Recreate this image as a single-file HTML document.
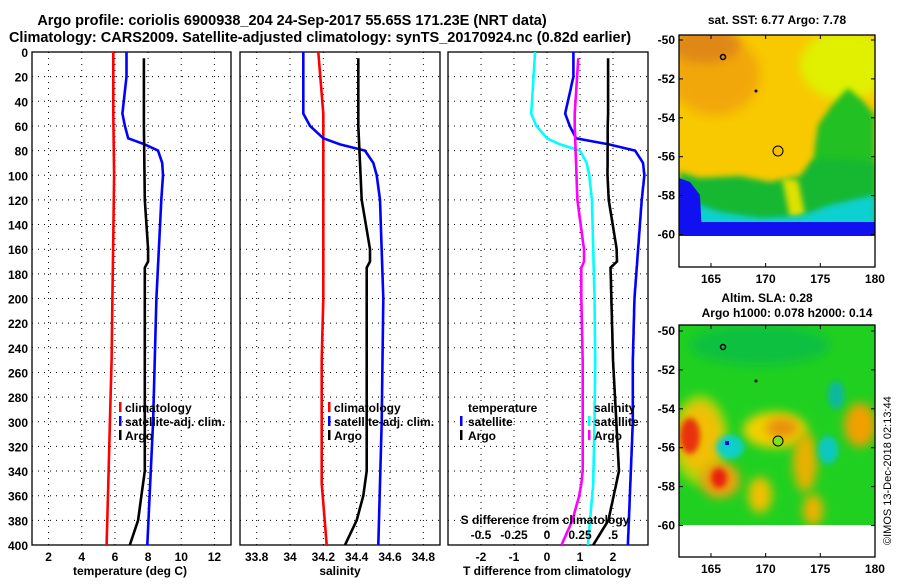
<!DOCTYPE html>
<html><head><meta charset="utf-8"><style>
body{margin:0;background:#fff;}
svg text{font-family:"Liberation Sans",sans-serif;font-weight:bold;fill:#000;}
</style></head><body>
<svg id="fig" width="900" height="580" viewBox="0 0 900 580" xmlns="http://www.w3.org/2000/svg">
<defs>
<clipPath id="c1"><rect x="32" y="52" width="199" height="493"/></clipPath>
<clipPath id="c2"><rect x="240" y="52" width="200" height="493"/></clipPath>
<clipPath id="c3"><rect x="448" y="52" width="200" height="493"/></clipPath>
<clipPath id="m1"><rect x="679" y="35" width="196" height="201"/></clipPath>
<clipPath id="m2"><rect x="679" y="325" width="196" height="200"/></clipPath>
<filter id="bl" x="-50%" y="-50%" width="200%" height="200%"><feGaussianBlur stdDeviation="5"/></filter>
<filter id="bl2" x="-50%" y="-50%" width="200%" height="200%"><feGaussianBlur stdDeviation="3"/></filter>
</defs>
<text x="292" y="25" font-size="14.5" text-anchor="middle">Argo profile: coriolis 6900938_204 24-Sep-2017 55.65S 171.23E (NRT data)</text>
<text x="320" y="42" font-size="14.5" text-anchor="middle">Climatology: CARS2009. Satellite-adjusted climatology: synTS_20170924.nc (0.82d earlier)</text>
<g id="plots"></g>
<!-- Map 1 -->
<g clip-path="url(#m1)">
<rect x="679" y="35" width="196" height="201" fill="#f8c800"/>
<ellipse cx="715" cy="75" rx="45" ry="40" fill="#f0a010" filter="url(#bl)" opacity="0.8"/>
<ellipse cx="705" cy="45" rx="35" ry="18" fill="#e08818" filter="url(#bl)"/>
<ellipse cx="845" cy="65" rx="45" ry="35" fill="#e0f000" filter="url(#bl)"/>
<polygon points="815,145 818,125 832,105 848,88 862,100 875,115 875,236 812,236 805,200 812,175" fill="#22c022" filter="url(#bl2)"/>
<polygon points="679,172 700,178 740,176 770,182 800,176 812,160 830,158 875,162 875,236 679,236" fill="#18b830" filter="url(#bl2)"/>
<polygon points="782,178 798,180 805,215 790,218" fill="#e0e000" filter="url(#bl2)"/>
<polygon points="679,198 720,212 760,218 800,216 830,205 875,195 875,236 679,236" fill="#10d0d0" filter="url(#bl2)"/>
<polygon points="679,222 875,222 875,236 679,236" fill="#1010f0"/>
<polygon points="679,178 690,182 700,195 702,236 679,236" fill="#1010f0"/>
<circle cx="723" cy="57" r="2.5" fill="none" stroke="#000" stroke-width="1.5"/>
<circle cx="756" cy="91" r="1.5" fill="#000"/>
<circle cx="778" cy="151" r="5" fill="#f5c000" stroke="#000" stroke-width="1"/>
</g>
<rect x="679" y="35" width="196" height="232" fill="none" stroke="#000" stroke-width="1.3"/>
<text x="777" y="24" font-size="12" text-anchor="middle">sat. SST: 6.77 Argo: 7.78</text>
<!-- Map 2 -->
<g clip-path="url(#m2)">
<rect x="679" y="325" width="196" height="200" fill="#20d020"/>
<ellipse cx="760" cy="345" rx="70" ry="20" fill="#10c040" filter="url(#bl)"/>
<ellipse cx="700" cy="438" rx="22" ry="35" fill="#f09010" filter="url(#bl)"/>
<ellipse cx="700" cy="440" rx="28" ry="45" fill="#f0e000" filter="url(#bl)" opacity="0.6"/>
<ellipse cx="690" cy="436" rx="10" ry="18" fill="#e83010" filter="url(#bl2)"/>
<ellipse cx="720" cy="480" rx="20" ry="18" fill="#f0a010" filter="url(#bl)"/>
<ellipse cx="719" cy="478" rx="8" ry="10" fill="#e82010" filter="url(#bl2)"/>
<ellipse cx="775" cy="430" rx="32" ry="18" fill="#f0d000" filter="url(#bl)"/>
<ellipse cx="782" cy="428" rx="16" ry="10" fill="#e89010" filter="url(#bl)"/>
<ellipse cx="805" cy="462" rx="12" ry="30" fill="#e8b000" filter="url(#bl)"/>
<ellipse cx="760" cy="495" rx="12" ry="18" fill="#f0c000" filter="url(#bl)"/>
<ellipse cx="813" cy="510" rx="10" ry="16" fill="#f0b000" filter="url(#bl)"/>
<ellipse cx="860" cy="425" rx="16" ry="22" fill="#f0a000" filter="url(#bl)"/>
<ellipse cx="730" cy="447" rx="14" ry="12" fill="#10d0c8" filter="url(#bl2)"/>
<ellipse cx="828" cy="450" rx="10" ry="14" fill="#10c8c0" filter="url(#bl2)"/>
<ellipse cx="836" cy="395" rx="8" ry="14" fill="#10b8a0" filter="url(#bl2)"/>
<rect x="725" y="441" width="4" height="4" fill="#10f"/>
<circle cx="723" cy="347" r="2.5" fill="none" stroke="#000" stroke-width="1.5"/>
<circle cx="756" cy="381" r="1.5" fill="#000"/>
<circle cx="778" cy="441" r="5" fill="#80e020" stroke="#000" stroke-width="1"/>
</g>
<rect x="679" y="325" width="196" height="232" fill="none" stroke="#000" stroke-width="1.3"/>
<text x="767" y="302" font-size="12" text-anchor="middle">Altim. SLA: 0.28</text>
<text x="787" y="317" font-size="12" text-anchor="middle">Argo h1000: 0.078 h2000: 0.14</text>
<text x="891" y="545" font-size="11" transform="rotate(-90 891 545)" style="font-weight:normal">©IMOS 13-Dec-2018 02:13:44</text>
<g id="mapaxes"></g>
</svg>
<script>
// ---- data ----
const depthsClim = [0, 50, 100, 150, 200, 250, 300, 350, 400];
const tempClim = [5.9, 5.9, 5.95, 5.9, 5.85, 5.8, 5.7, 5.6, 5.5];
const depthsSat = [0, 20, 50, 60, 70, 75, 80, 90, 100, 120, 200, 300, 400];
const tempSat = [6.7, 6.7, 6.45, 6.6, 6.8, 7.8, 8.6, 8.85, 8.9, 8.8, 8.5, 8.3, 7.95];
const depthsArgo = [5, 60, 120, 160, 170, 175, 250, 300, 340, 360, 380, 400];
const tempArgo = [7.75, 7.75, 7.8, 8.0, 8.0, 7.8, 7.8, 7.8, 7.8, 7.6, 7.4, 6.9];
const salClim = [34.17, 34.2, 34.2, 34.2, 34.2, 34.19, 34.19, 34.19, 34.22];
const salSat = [34.08, 34.08, 34.08, 34.12, 34.2, 34.3, 34.45, 34.5, 34.52, 34.54, 34.56, 34.55, 34.53];
const salArgo = [34.41, 34.41, 34.43, 34.48, 34.48, 34.46, 34.46, 34.46, 34.46, 34.44, 34.4, 34.33];
const tTicks1 = [2, 4, 6, 8, 10, 12];
const sTicks = [33.8, 34, 34.2, 34.4, 34.6, 34.8];
const dTicksT = [-2, -1, 0, 1, 2];
const dTicksS = ["-0.5", "-0.25", "0", "0.25", ".5"];
const depthTicks = [0,20,40,60,80,100,120,140,160,180,200,220,240,260,280,300,320,340,360,380,400];
const lonTicks = [165, 170, 175, 180];
const latTicks = [-50, -52, -54, -56, -58, -60];

const NS = "http://www.w3.org/2000/svg";
const yD = d => 52 + d * (493 / 400);
function mk(tag, attrs, parent) { const e = document.createElementNS(NS, tag); for (const k in attrs) e.setAttribute(k, attrs[k]); parent.appendChild(e); return e; }
function interp(ds, vs, d) {
  if (d <= ds[0]) return vs[0];
  for (let i = 1; i < ds.length; i++) if (d <= ds[i]) { const f = (d - ds[i-1]) / (ds[i] - ds[i-1]); return vs[i-1] + f * (vs[i] - vs[i-1]); }
  return vs[vs.length - 1];
}
const plots = document.getElementById('plots');
const panels = [
  {x0: 32, x1: 231, v0: 1, v1: 13, clip: 'c1', name: 'temperature-panel'},
  {x0: 240, x1: 440, v0: 33.7, v1: 34.9, clip: 'c2', name: 'salinity-panel'},
  {x0: 448, x1: 648, v0: -3, v1: 3.06, clip: 'c3', name: 'difference-panel'}
];
function sx(p, v) { return p.x0 + (v - p.v0) / (p.v1 - p.v0) * (p.x1 - p.x0); }
function line(p, ds, fn, color, name, w) {
  const pts = ds.map(d => sx(p, fn(d)).toFixed(1) + ',' + yD(d).toFixed(1)).join(' ');
  const el = mk('polyline', {points: pts, fill: 'none', stroke: color, 'stroke-width': w || 2.6, 'clip-path': 'url(#' + p.clip + ')'}, plots);
  
  
}
panels.forEach((p, i) => {
  const g = mk('g', {}, plots);
  
  
  const ticks = i === 0 ? tTicks1 : i === 1 ? sTicks : dTicksT;
  ticks.forEach(t => {
    const x = sx(p, t);
    mk('line', {x1: x, x2: x, y1: 52, y2: 545, stroke: '#000', 'stroke-width': 1, 'stroke-dasharray': '1,5'}, g);
    const tl = mk('text', {x: x, y: 561, 'font-size': 12, 'text-anchor': 'middle'}, g);
    tl.textContent = t;
  });
  depthTicks.forEach(d => {
    mk('line', {x1: p.x0, x2: p.x1, y1: yD(d), y2: yD(d), stroke: '#000', 'stroke-width': 1, 'stroke-dasharray': '1,5'}, g);
    if (i === 0) { const tl = mk('text', {x: 28, y: yD(d) + 5, 'font-size': 12, 'text-anchor': 'end'}, g); tl.textContent = d; }
  });
  mk('rect', {x: p.x0, y: 52, width: p.x1 - p.x0, height: 493, fill: 'none', stroke: '#000', 'stroke-width': 1.3}, g);
});
const fine = []; for (let d = 0; d <= 400; d += 2.5) fine.push(d);
const fineA = fine.filter(d => d >= 5);
const p1 = panels[0], p2 = panels[1], p3 = panels[2];
line(p1, depthsClim, d => interp(depthsClim, tempClim, d), '#f00', 'temp-climatology-line');
line(p1, depthsSat, d => interp(depthsSat, tempSat, d), '#00f', 'temp-satellite-line');
line(p1, depthsArgo, d => interp(depthsArgo, tempArgo, d), '#000', 'temp-argo-line');
line(p2, depthsClim, d => interp(depthsClim, salClim, d), '#f00', 'sal-climatology-line');
line(p2, depthsSat, d => interp(depthsSat, salSat, d), '#00f', 'sal-satellite-line');
line(p2, depthsArgo, d => interp(depthsArgo, salArgo, d), '#000', 'sal-argo-line');
line(p3, fine, d => interp(depthsSat, tempSat, d) - interp(depthsClim, tempClim, d), '#00f', 'tdiff-satellite-line');
line(p3, fineA, d => interp(depthsArgo, tempArgo, d) - interp(depthsClim, tempClim, d), '#000', 'tdiff-argo-line');
line(p3, fine, d => 4 * (interp(depthsSat, salSat, d) - interp(depthsClim, salClim, d)), '#0ff', 'sdiff-satellite-line');
line(p3, fineA, d => 4 * (interp(depthsArgo, salArgo, d) - interp(depthsClim, salClim, d)), '#f0f', 'sdiff-argo-line');
dTicksS.forEach((t, i) => { const tl = mk('text', {x: sx(p3, dTicksT[i]), y: 539, 'font-size': 12, 'text-anchor': 'middle'}, plots); tl.textContent = t; });
function txt(x, y, s, name, anchor) { const t = mk('text', {x: x, y: y, 'font-size': 12, 'text-anchor': anchor || 'start'}, plots); t.textContent = s;   }
function mark(x, y, c) { mk('rect', {x: x, y: y - 10, width: 2.5, height: 10, fill: c}, plots); }
[[119, 'temp'], [328, 'sal']].forEach(([x, n]) => {
  mark(x, 412, '#f00'); txt(x + 6, 412, 'climatology', n + '-legend-climatology');
  mark(x, 426, '#00f'); txt(x + 6, 426, 'satellite-adj. clim.', n + '-legend-satellite');
  mark(x, 440, '#000'); txt(x + 6, 440, 'Argo', n + '-legend-argo');
});
txt(468, 412, 'temperature', 'diff-legend-temperature');
mark(460, 426, '#00f'); txt(468, 426, 'satellite', 'diff-legend-t-satellite');
mark(460, 440, '#000'); txt(468, 440, 'Argo', 'diff-legend-t-argo');
txt(594, 412, 'salinity', 'diff-legend-salinity');
mark(588, 426, '#0ff'); txt(594, 426, 'satellite', 'diff-legend-s-satellite');
mark(588, 440, '#f0f'); txt(594, 440, 'Argo', 'diff-legend-s-argo');
txt(545, 524, 'S difference from climatology', 'sdiff-axis-title', 'middle');
txt(130, 575, 'temperature (deg C)', 'x-axis-title-temperature', 'middle');
txt(340, 575, 'salinity', 'x-axis-title-salinity', 'middle');
txt(547, 575, 'T difference from climatology', 'x-axis-title-tdiff', 'middle');
const ma = document.getElementById('mapaxes');
const lonX = l => 711 + (l - 165) * 10.93;
[[40, 279], [331, 569]].forEach(([ytop, ylab], k) => {
  const yb = k === 0 ? 267 : 557;
  lonTicks.forEach(l => {
    mk('line', {x1: lonX(l), x2: lonX(l), y1: yb, y2: yb - 4, stroke: '#000'}, ma);
    mk('line', {x1: lonX(l), x2: lonX(l), y1: yb - 232, y2: yb - 228, stroke: '#000'}, ma);
    const t = mk('text', {x: lonX(l), y: ylab + 4, 'font-size': 12, 'text-anchor': 'middle'}, ma); t.textContent = l;
  });
  latTicks.forEach(la => {
    const y = ytop + (-50 - la) * 19.45;
    mk('line', {x1: 679, x2: 683, y1: y, y2: y, stroke: '#000'}, ma);
    mk('line', {x1: 871, x2: 875, y1: y, y2: y, stroke: '#000'}, ma);
    const t = mk('text', {x: 675, y: y + 4, 'font-size': 12, 'text-anchor': 'end'}, ma); t.textContent = la;
  });
});
</script>
</body></html>
